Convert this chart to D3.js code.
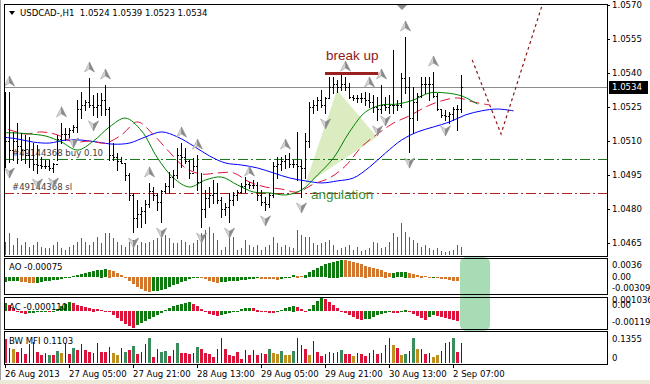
<!DOCTYPE html>
<html>
<head>
<meta charset="utf-8">
<script src="https://cdn.jsdelivr.net/npm/d3@7"></script>
<style>
  body { margin: 0; background: #fff; }
  text { font-family: "DejaVu Sans Condensed", "DejaVu Sans", sans-serif; font-size: 9.5px; fill: #000; }
</style>
</head>
<body>
<svg id="chart" width="650" height="384"></svg>
<script>
// ---- price bars (H1 USDCAD) ----
var hi = [
  1.05316, 1.05316, 1.05140, 1.05180, 1.05136, 1.05127, 1.05118, 1.05091, 1.05082, 1.05029,
  1.05016, 1.05016, 1.05003, 1.05127, 1.05180, 1.05158, 1.05158, 1.05171, 1.05281, 1.05316,
  1.05281, 1.05378, 1.05303, 1.05312, 1.05312, 1.05347, 1.05250, 1.05091, 1.05047, 1.05029,
  1.05003, 1.04959, 1.04871, 1.04840, 1.04809, 1.04840, 1.04915, 1.04897, 1.04871, 1.04884,
  1.04915, 1.04963, 1.04972, 1.05069, 1.05091, 1.05069, 1.05016, 1.05025, 1.05038, 1.04959,
  1.04884, 1.04897, 1.04928, 1.04915, 1.04853, 1.04827, 1.04871, 1.04875, 1.04884, 1.04915,
  1.04941, 1.04919, 1.04928, 1.04919, 1.04884, 1.04853, 1.04871, 1.05007, 1.05029, 1.05029,
  1.05038, 1.05047, 1.05016, 1.05140, 1.05016, 1.05136, 1.05272, 1.05281, 1.05294, 1.05325,
  1.05294, 1.05382, 1.05382, 1.05369, 1.05391, 1.05382, 1.05356, 1.05303, 1.05303, 1.05312,
  1.05316, 1.05312, 1.05303, 1.05294, 1.05347, 1.05294, 1.05303, 1.05502, 1.05281, 1.05400,
  1.05559, 1.05382, 1.05338, 1.05312, 1.05382, 1.05382, 1.05382, 1.05404, 1.05312, 1.05237,
  1.05237, 1.05228, 1.05250, 1.05259, 1.05390
];
var lo = [
  1.04985, 1.05007, 1.05016, 1.05003, 1.05016, 1.05003, 1.04985, 1.04972, 1.04959, 1.04981,
  1.04981, 1.04972, 1.04963, 1.05016, 1.05091, 1.05104, 1.05104, 1.05140, 1.05140, 1.05202,
  1.05237, 1.05250, 1.05215, 1.05206, 1.05215, 1.05215, 1.05016, 1.05016, 1.04972, 1.05003,
  1.04928, 1.04840, 1.04698, 1.04720, 1.04720, 1.04738, 1.04809, 1.04840, 1.04796, 1.04742,
  1.04871, 1.04871, 1.04897, 1.04937, 1.04985, 1.05003, 1.04937, 1.04972, 1.04884, 1.04720,
  1.04765, 1.04809, 1.04827, 1.04827, 1.04765, 1.04774, 1.04742, 1.04818, 1.04840, 1.04871,
  1.04875, 1.04893, 1.04893, 1.04840, 1.04818, 1.04796, 1.04809, 1.04853, 1.04937, 1.04972,
  1.04981, 1.04985, 1.04985, 1.04928, 1.04853, 1.04937, 1.05073, 1.05224, 1.05237, 1.05250,
  1.05224, 1.05294, 1.05312, 1.05316, 1.05325, 1.05325, 1.05290, 1.05281, 1.05272, 1.05272,
  1.05259, 1.05250, 1.05228, 1.05193, 1.05224, 1.05237, 1.05224, 1.05224, 1.05237, 1.05250,
  1.05312, 1.05051, 1.05136, 1.05193, 1.05294, 1.05312, 1.05281, 1.05294, 1.05237, 1.05206,
  1.05193, 1.05179, 1.05193, 1.05149, 1.05230
];
var cl = [
  1.05100, 1.05060, 1.05100, 1.05080, 1.05060, 1.05040, 1.05020, 1.05000, 1.04995, 1.04990,
  1.04990, 1.04980, 1.05000, 1.05110, 1.05130, 1.05130, 1.05150, 1.05160, 1.05240, 1.05260,
  1.05270, 1.05260, 1.05250, 1.05260, 1.05280, 1.05240, 1.05040, 1.05030, 1.05010, 1.05005,
  1.04950, 1.04860, 1.04760, 1.04780, 1.04790, 1.04820, 1.04880, 1.04860, 1.04830, 1.04880,
  1.04900, 1.04940, 1.04950, 1.05040, 1.05030, 1.05010, 1.04960, 1.04990, 1.04920, 1.04800,
  1.04850, 1.04860, 1.04870, 1.04840, 1.04800, 1.04810, 1.04840, 1.04860, 1.04875, 1.04900,
  1.04910, 1.04905, 1.04905, 1.04860, 1.04830, 1.04820, 1.04860, 1.04990, 1.05000, 1.05010,
  1.05020, 1.05000, 1.05000, 1.04990, 1.04980, 1.05100, 1.05250, 1.05260, 1.05280, 1.05260,
  1.05290, 1.05340, 1.05350, 1.05340, 1.05350, 1.05340, 1.05295, 1.05290, 1.05290, 1.05290,
  1.05280, 1.05270, 1.05250, 1.05240, 1.05260, 1.05250, 1.05260, 1.05260, 1.05260, 1.05380,
  1.05340, 1.05200, 1.05270, 1.05300, 1.05350, 1.05350, 1.05350, 1.05300, 1.05240, 1.05215,
  1.05210, 1.05220, 1.05240, 1.05240, 1.05340
];
var firstOpen = 1.05200;

// tick volumes
var vol = [
  520, 880, 400, 680, 400, 520, 320, 400, 520, 320,
  280, 280, 400, 520, 280, 200, 320, 400, 520, 680,
  520, 400, 520, 720, 480, 880, 880, 680, 520, 400,
  320, 520, 600, 400, 520, 480, 520, 600, 680, 680,
  800, 680, 480, 480, 600, 520, 400, 480, 600, 880,
  1000, 1120, 880, 600, 200, 320, 680, 720, 200, 280,
  600, 400, 320, 400, 200, 320, 400, 720, 480, 320,
  400, 320, 280, 1000, 800, 720, 720, 480, 400, 480,
  520, 600, 400, 200, 280, 320, 400, 200, 320, 160,
  200, 280, 520, 480, 280, 320, 520, 880, 720, 1280,
  920, 720, 600, 480, 320, 400, 280, 200, 280, 160,
  120, 160, 200, 400, 320
];

// Alligator lines, one value every 4 bars, first point at the given bar
var jawStart = -1, teethStart = -3, lipsStart = -2, lineStep = 4;
var jaw = [1.05118, 1.05109, 1.05095, 1.05091, 1.05104, 1.05104, 1.05095, 1.05086, 1.05091, 1.05118,
  1.05140, 1.05118, 1.05078, 1.05034, 1.05003, 1.04994, 1.04981, 1.04959, 1.04937, 1.04924,
  1.04915, 1.04924, 1.04937, 1.04985, 1.05047, 1.05104, 1.05140, 1.05162, 1.05184, 1.05215,
  1.05233, 1.05241, 1.05233];
var teeth = [1.05167, 1.05149, 1.05131, 1.05140, 1.05127, 1.05095, 1.05100, 1.05091, 1.05127, 1.05184,
  1.05127, 1.05051, 1.04981, 1.04954, 1.04959, 1.04959, 1.04919, 1.04897, 1.04888, 1.04875,
  1.04910, 1.04937, 1.04990, 1.05074, 1.05131, 1.05179, 1.05211, 1.05250, 1.05277, 1.05290,
  1.05272, 1.05259];
var lips = [1.05136, 1.05136, 1.05131, 1.05122, 1.05095, 1.05060, 1.05100, 1.05162, 1.05201, 1.05145,
  1.05025, 1.04937, 1.04897, 1.04928, 1.04941, 1.04906, 1.04875, 1.04871, 1.04862, 1.04884,
  1.04950, 1.05025, 1.05140, 1.05228, 1.05259, 1.05263, 1.05281, 1.05312, 1.05312, 1.05299,
  1.05263];

// fractals (bar index)
var fractalUp = [1, 14, 21, 25, 36, 44, 48, 61, 70, 85, 91, 94, 100, 107];
var fractalDown = [1, 8, 12, 17, 22, 32, 39, 49, 56, 65, 74, 80, 93, 95, 101, 110];

// Awesome Oscillator
var ao = [
  -0.00095, -0.00088, -0.00084, -0.00080, -0.00095, -0.00105, -0.00116, -0.00126, -0.00118, -0.00105,
  -0.00092, -0.00080, -0.00067, -0.00053, -0.00038, -0.00021, 0.00006, 0.00021, 0.00042, 0.00063,
  0.00084, 0.00105, 0.00126, 0.00147, 0.00158, 0.00168, 0.00158, 0.00126, 0.00084, 0.00042,
  -0.00021, -0.00084, -0.00147, -0.00210, -0.00252, -0.00294, -0.00309, -0.00300, -0.00294, -0.00273,
  -0.00242, -0.00210, -0.00168, -0.00137, -0.00105, -0.00074, -0.00042, -0.00017, 0.00006, -0.00021,
  -0.00042, -0.00074, -0.00095, -0.00116, -0.00109, -0.00101, -0.00092, -0.00084, -0.00074, -0.00063,
  -0.00053, -0.00042, -0.00034, -0.00025, -0.00032, -0.00040, -0.00046, -0.00050, -0.00053, -0.00032,
  -0.00011, 0.00013, 0.00038, 0.00034, 0.00029, 0.00053, 0.00105, 0.00147, 0.00189, 0.00231,
  0.00273, 0.00305, 0.00326, 0.00347, 0.00360, 0.00353, 0.00336, 0.00315, 0.00294, 0.00269,
  0.00242, 0.00214, 0.00189, 0.00164, 0.00141, 0.00116, 0.00088, 0.00095, 0.00103, 0.00111,
  0.00118, 0.00097, 0.00074, 0.00050, 0.00032, 0.00019, 0.00008, 0.00013, -0.00011, -0.00032,
  -0.00050, -0.00065, -0.00078, -0.00088, -0.00075
];

// Accelerator Oscillator
var ac = [
  0.000574, 0.000431, 0.000215, -0.000072, -0.000144, -0.000215, -0.000144, -0.000108, -0.000086, -0.000072,
  -0.000057, -0.000072, -0.000036, 0.000144, 0.000359, 0.000503, 0.000646, 0.000574, 0.000431, 0.000359,
  0.000287, 0.000215, 0.000180, 0.000144, 0.000072, 0.000036, -0.000072, -0.000287, -0.000503, -0.000718,
  -0.000933, -0.001077, -0.001190, -0.001005, -0.000862, -0.000718, -0.000574, -0.000431, -0.000287, -0.000144,
  0.000072, 0.000215, 0.000359, 0.000431, 0.000503, 0.000574, 0.000646, 0.000503, 0.000359, 0.000144,
  -0.000072, -0.000215, -0.000287, -0.000359, -0.000287, -0.000215, -0.000144, -0.000072, 0.000036, 0.000144,
  0.000215, 0.000251, 0.000215, 0.000108, 0.000036, -0.000036, -0.000108, -0.000144, -0.000072, 0.000072,
  0.000215, 0.000323, 0.000395, 0.000287, 0.000144, -0.000072, 0.000144, 0.000431, 0.000718, 0.001036,
  0.000862, 0.000646, 0.000431, 0.000215, 0.000036, -0.000144, -0.000287, -0.000431, -0.000574, -0.000646,
  -0.000610, -0.000539, -0.000431, -0.000323, -0.000215, -0.000144, -0.000072, -0.000108, -0.000144, -0.000036,
  0.000108, -0.000072, -0.000215, -0.000359, -0.000503, -0.000646, -0.000431, -0.000287, -0.000359, -0.000431,
  -0.000503, -0.000574, -0.000646, -0.000718, -0.000110
];

// Market Facilitation Index and its bar colours
var mfi = [
  0.1301, 0.0813, 0.0759, 0.0596, 0.0813, 0.0488, 0.1030, 0.1138, 0.0596, 0.0434,
  0.0542, 0.0434, 0.0434, 0.0650, 0.0542, 0.1084, 0.0488, 0.0813, 0.0705, 0.1030,
  0.0705, 0.0596, 0.0542, 0.1084, 0.0596, 0.0596, 0.0867, 0.0542, 0.0434, 0.0813,
  0.0596, 0.0705, 0.0921, 0.0488, 0.0596, 0.1030, 0.1355, 0.0325, 0.0759, 0.0596,
  0.0650, 0.0379, 0.0705, 0.1084, 0.0542, 0.0542, 0.0488, 0.0542, 0.0867, 0.0759,
  0.0542, 0.0488, 0.0325, 0.0759, 0.1355, 0.0759, 0.0434, 0.0379, 0.0596, 0.0217,
  0.0705, 0.0434, 0.0705, 0.0434, 0.0542, 0.0488, 0.0759, 0.0542, 0.0488, 0.0650,
  0.0434, 0.0434, 0.0650, 0.1355, 0.0976, 0.0759, 0.0434, 0.1192, 0.0596, 0.0379,
  0.0488, 0.0596, 0.0542, 0.0596, 0.0705, 0.0488, 0.0488, 0.0379, 0.0542, 0.0488,
  0.0379, 0.0542, 0.0705, 0.0488, 0.0542, 0.0976, 0.1355, 0.0976, 0.0813, 0.0434,
  0.0488, 0.0650, 0.1355, 0.0759, 0.0759, 0.0488, 0.0542, 0.0325, 0.0434, 0.0650,
  0.1084, 0.1138, 0.1355, 0.0596, 0.1103
];
var mfiKind = ("rbyrbrbbrr" + "bgrgybrgrb" + "rrbbrrbyyb" + "grgrbbgrbg" + "grbgrrrbgr" +
  "rrrbbrrrrr" + "brbrbrgyyg" + "yygbbrybrr" + "bbbbgrrybr" + "rbbrbbbyry" +
  "gbgybrbyyb" + "bbgrb").split("");

// axes
var priceTicks = [1.0570, 1.0555, 1.0540, 1.0525, 1.0510, 1.0495, 1.0480, 1.0465];
var timeTicks = [0, 16, 32, 48, 64, 80, 96, 112];
var timeLabels = ["26 Aug 2013", "27 Aug 05:00", "27 Aug 21:00", "28 Aug 13:00",
  "29 Aug 05:00", "29 Aug 21:00", "30 Aug 13:00", "2 Sep 07:00"];

// open order and drawn objects
var orderPrice = 1.05020, stopPrice = 1.04871, bidPrice = 1.0534;
var breakUp = [{ bar: 80, price: 1.05398 }, { bar: 93.3, price: 1.05398 }];
var wedge = [{ bar: 75, price: 1.04906 }, { bar: 83, price: 1.05325 }, { bar: 93, price: 1.05118 }];
var forecast = [{ bar: 116.8, price: 1.05458 }, { bar: 124, price: 1.05131 }, { bar: 134.3, price: 1.05700 }];

var svg = d3.select("#chart");

// Define scales
var x = d3.scaleLinear().domain([0, 1]).range([5, 9]);
var y = d3.scaleLinear().domain([1.0465, 1.0570]).range([243, 5]);
var yVol = d3.scaleLinear().domain([0, 2000]).range([255, 205]);
var yAO = d3.scaleLinear().domain([-0.00309, 0.0036]).range([292, 260]);
var yAC = d3.scaleLinear().domain([-0.00119, 0.001036]).range([328, 297]);
var yMFI = d3.scaleLinear().domain([0, 0.1355]).range([363, 338]);

var L = 4, R = 607;
var panels = [
  { id: "main", top: 4, bottom: 256 },
  { id: "ao", top: 258, bottom: 294 },
  { id: "ac", top: 297, bottom: 329 },
  { id: "mfi", top: 331, bottom: 364 }
];

// window edges
svg.append("rect").attr("x", 0).attr("y", 380).attr("width", 650).attr("height", 4).attr("fill", "#ece9d8");
svg.append("line").attr("x1", 0.5).attr("x2", 0.5).attr("y1", 0).attr("y2", 380).attr("stroke", "#a0a0a0");

var defs = svg.append("defs");
panels.forEach(function(p) {
  defs.append("clipPath").attr("id", "clip-" + p.id)
    .append("rect").attr("x", L + 1).attr("y", p.top + 1)
    .attr("width", R - L - 1).attr("height", p.bottom - p.top - 1);
});

var main = svg.append("g").attr("clip-path", "url(#clip-main)");

// wedge
main.append("polygon")
  .attr("points", wedge.map(function(d) { return x(d.bar) + "," + y(d.price); }).join(" "))
  .attr("fill", "#dbecc0");

// order lines
main.append("line").attr("x1", L).attr("x2", R)
  .attr("y1", Math.round(y(orderPrice)) + 0.5).attr("y2", Math.round(y(orderPrice)) + 0.5)
  .attr("stroke", "#1f7a1f").attr("stroke-dasharray", "10,3,2,3");
main.append("line").attr("x1", L).attr("x2", R)
  .attr("y1", Math.round(y(stopPrice)) + 0.5).attr("y2", Math.round(y(stopPrice)) + 0.5)
  .attr("stroke", "#b22222").attr("stroke-dasharray", "10,3,2,3");
main.append("text").attr("x", 12).attr("y", y(orderPrice) - 6).attr("dy", "0.35em")
  .style("fill", "#404040").text("#49144368 buy 0.10");
main.append("text").attr("x", 12).attr("y", y(stopPrice) - 6).attr("dy", "0.35em")
  .style("fill", "#404040").text("#49144368 sl");

// bid line
main.append("line").attr("x1", L).attr("x2", R)
  .attr("y1", Math.round(y(bidPrice)) + 0.5).attr("y2", Math.round(y(bidPrice)) + 0.5)
  .attr("stroke", "#8c8c8c");

// volumes
main.append("g").selectAll("rect").data(vol).enter().append("rect")
  .attr("x", function(d, i) { return x(i); })
  .attr("width", 1)
  .attr("y", function(d) { return Math.round(yVol(d)); })
  .attr("height", function(d) { return yVol(0) - Math.round(yVol(d)); })
  .attr("fill", "#1e8a1e").attr("shape-rendering", "crispEdges");

// alligator
function pts(vals, start) {
  return vals.map(function(v, j) { return { k: start + lineStep * j, v: v }; });
}
var line = d3.line()
  .curve(d3.curveCatmullRom)
  .x(function(d) { return x(d.k) + 0.5; })
  .y(function(d) { return y(d.v); });
main.append("path").attr("d", line(pts(jaw, jawStart))).attr("fill", "none").attr("stroke", "#0000ff");
main.append("path").attr("d", line(pts(teeth, teethStart))).attr("fill", "none").attr("stroke", "#dc143c")
  .attr("stroke-dasharray", "10,5");
main.append("path").attr("d", line(pts(lips, lipsStart))).attr("fill", "none").attr("stroke", "#008000");

// bars
var bars = main.append("g").attr("shape-rendering", "crispEdges").attr("stroke", "#000");
hi.forEach(function(h, i) {
  var cx = x(i) + 0.5;
  var op = i === 0 ? firstOpen : cl[i - 1];
  bars.append("line").attr("x1", cx).attr("x2", cx)
    .attr("y1", Math.round(y(h))).attr("y2", Math.round(y(lo[i])) + 1);
  bars.append("line").attr("x1", cx - 1.5).attr("x2", cx)
    .attr("y1", Math.round(y(op)) + 0.5).attr("y2", Math.round(y(op)) + 0.5);
  bars.append("line").attr("x1", cx).attr("x2", cx + 1.5)
    .attr("y1", Math.round(y(cl[i])) + 0.5).attr("y2", Math.round(y(cl[i])) + 0.5);
});

// fractal arrows
function arrow(g, cx, cy, up) {
  var s = up ? 1 : -1;
  g.append("path").attr("d", "M" + cx + "," + (cy - 5 * s) + " L" + (cx - 5) + "," + (cy + 5 * s) + " L" + cx + "," + (cy + 2 * s) + "Z")
    .attr("fill", "#d6d6d6").attr("stroke", "#a0a0a0").attr("stroke-width", 0.6);
  g.append("path").attr("d", "M" + cx + "," + (cy - 5 * s) + " L" + (cx + 5) + "," + (cy + 5 * s) + " L" + cx + "," + (cy + 2 * s) + "Z")
    .attr("fill", "#8a8a8a").attr("stroke", "#8a8a8a").attr("stroke-width", 0.6);
}
var arrows = main.append("g");
fractalUp.forEach(function(i) { arrow(arrows, x(i) + 0.5, y(hi[i]) - 11, true); });
fractalDown.forEach(function(i) { arrow(arrows, x(i) + 0.5, y(lo[i]) + 11, false); });

// break up
main.append("line").attr("x1", x(breakUp[0].bar)).attr("x2", x(breakUp[1].bar))
  .attr("y1", y(breakUp[0].price)).attr("y2", y(breakUp[1].price))
  .attr("stroke", "#9b2020").attr("stroke-width", 3);
main.append("text").attr("x", x(breakUp[0].bar) + 1).attr("y", 60)
  .style("font-family", "'Liberation Sans', Arial, sans-serif").style("font-size", "13.5px")
  .style("fill", "#8b1a1a").text("break up");
main.append("text").attr("x", 311).attr("y", 199)
  .style("font-family", "'Liberation Sans', Arial, sans-serif").style("font-size", "13.5px")
  .style("fill", "#3a8f3a").text("angulation");

// forecast
main.append("path")
  .attr("d", d3.line().x(function(d) { return x(d.bar); }).y(function(d) { return y(d.price); })(forecast))
  .attr("fill", "none").attr("stroke", "#8b1a1a").attr("stroke-width", 1.2).attr("stroke-dasharray", "3,3");

// chart shift marker
svg.append("path").attr("d", "M397,5 L407,5 L402,10 Z").attr("fill", "#8c8c8c");

// ---- oscillators ----
var aoG = svg.append("g").attr("clip-path", "url(#clip-ao)").attr("shape-rendering", "crispEdges");
aoG.selectAll("rect").data(ao).enter().append("rect")
  .attr("x", function(d, i) { return x(i) - 1; })
  .attr("width", 3)
  .attr("y", function(d) { return Math.round(Math.min(yAO(d), yAO(0))); })
  .attr("height", function(d) { return Math.max(1, Math.round(Math.abs(yAO(d) - yAO(0)))); })
  .attr("fill", function(d, i) { return i > 0 && d < ao[i - 1] ? "#d2782e" : "#0f7a0f"; });

var acG = svg.append("g").attr("clip-path", "url(#clip-ac)").attr("shape-rendering", "crispEdges");
acG.selectAll("rect").data(ac).enter().append("rect")
  .attr("x", function(d, i) { return x(i) - 1; })
  .attr("width", 3)
  .attr("y", function(d) { return Math.round(Math.min(yAC(d), yAC(0))); })
  .attr("height", function(d) { return Math.max(1, Math.round(Math.abs(yAC(d) - yAC(0)))); })
  .attr("fill", function(d, i) { return i > 0 && d < ac[i - 1] ? "#dc143c" : "#0f7a0f"; });

var mfiColor = { r: "#dc143c", g: "#3a8c5c", y: "#bf9020", b: "#1c1c8c" };
var mfiG = svg.append("g").attr("clip-path", "url(#clip-mfi)").attr("shape-rendering", "crispEdges");
mfiG.selectAll("rect").data(mfi).enter().append("rect")
  .attr("x", function(d, i) { return mfiKind[i] === "b" ? x(i) : x(i) - 1; })
  .attr("width", function(d, i) { return mfiKind[i] === "b" ? 1 : 3; })
  .attr("y", function(d) { return Math.round(yMFI(d)); })
  .attr("height", function(d) { return Math.round(yMFI(0) - yMFI(d)); })
  .attr("fill", function(d, i) { return mfiColor[mfiKind[i]]; });

// overlay box on the oscillators
svg.append("rect").attr("x", 460).attr("y", 257).attr("width", 30).attr("height", 74)
  .attr("rx", 6).attr("fill", "#a8dcb5");

// panel frames
panels.forEach(function(p) {
  svg.append("rect").attr("x", L + 0.5).attr("y", p.top + 0.5)
    .attr("width", R - L).attr("height", p.bottom - p.top)
    .attr("fill", "none").attr("stroke", "#000").attr("shape-rendering", "crispEdges");
});

// price axis
priceTicks.forEach(function(p) {
  svg.append("line").attr("x1", R).attr("x2", R + 3).attr("y1", Math.round(y(p)) + 0.5).attr("y2", Math.round(y(p)) + 0.5)
    .attr("stroke", "#000");
  svg.append("text").attr("x", 612).attr("y", y(p)).attr("dy", "0.35em").text(d3.format(".4f")(p));
});
svg.append("rect").attr("x", 609).attr("y", Math.round(y(bidPrice)) - 6).attr("width", 39).attr("height", 13).attr("fill", "#000");
svg.append("text").attr("x", 612).attr("y", y(bidPrice)).attr("dy", "0.35em").style("fill", "#fff").text("1.0534");

// oscillator scale labels
[["0.0036", 265], ["0.00", 277], ["-0.00309", 287.5],
 ["0.001036", 300], ["0.00", 304.5], ["-0.00119", 322],
 ["0.1355", 338.5], ["0", 358]].forEach(function(t) {
  svg.append("text").attr("x", 612).attr("y", t[1]).attr("dy", "0.35em").text(t[0]);
});

// indicator names
svg.append("text").attr("x", 9).attr("y", 267).attr("dy", "0.35em").text("AO -0.00075");
svg.append("text").attr("x", 9).attr("y", 306.5).attr("dy", "0.35em").text("AC -0.000110");
svg.append("text").attr("x", 9).attr("y", 341).attr("dy", "0.35em").text("BW MFI 0.1103");

// time axis
timeTicks.forEach(function(t, j) {
  svg.append("line").attr("x1", x(t) + 0.5).attr("x2", x(t) + 0.5).attr("y1", 364).attr("y2", 368)
    .attr("stroke", "#000");
  svg.append("text").attr("x", x(t)).attr("y", 373.5).attr("dy", "0.35em").text(timeLabels[j]);
});

// header
svg.append("path").attr("d", "M9,11 L15,11 L12,15 Z").attr("fill", "#000");
svg.append("text").attr("x", 20).attr("y", 12.5).attr("dy", "0.35em")
  .style("white-space", "pre").text("USDCAD-,H1  1.0524 1.0539 1.0523 1.0534");
</script>
</body>
</html>
